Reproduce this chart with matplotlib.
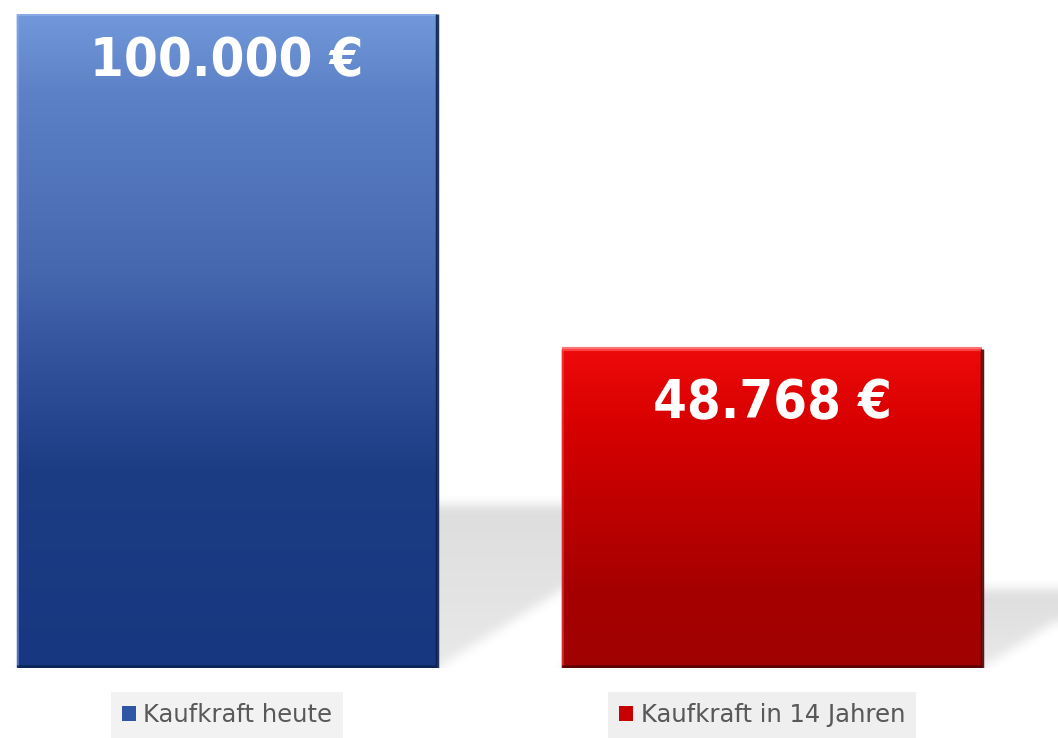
import numpy as np
import matplotlib
matplotlib.use("Agg")
import matplotlib.pyplot as plt
from matplotlib.patches import Patch
from matplotlib.transforms import blended_transform_factory

# Kaufkraft heute vs. in 14 Jahren
kategorien = ["Kaufkraft heute", "Kaufkraft in 14 Jahren"]
werte = [100000, 48768]
beschriftung = ["100.000 €", "48.768 €"]

# farbverlaeufe (oben -> unten)
verlauf = [
    [(0.0, "#7299dc"), (0.12, "#5d81c6"), (0.4, "#4567ae"), (0.56, "#2e4e98"),
     (0.7, "#1c3c84"), (1.0, "#173780")],
    [(0.0, "#ee0a0a"), (0.25, "#d60000"), (0.75, "#a60000"), (1.0, "#a00202")],
]
kanten_dunkel = ["#0c1f4c", "#4a0000"]
kanten_hell = ["#8fb0ea", "#ff5050"]
legenden_farben = ["#2f56a4", "#c80000"]
text_abstand = [-34, -39]      # punkte unter balkenoberkante
legenden_versatz = [0, -10]    # pixel

fig = plt.figure(figsize=(10.58, 7.38), dpi=100)
ax = fig.add_axes([0, 70 / 738, 1, 654 / 738])
ax.set_xlim(-227 / 545, (1058 - 227) / 545)
ax.set_ylim(0, 100000)
ax.axis("off")

x = np.arange(len(werte))
bars = ax.bar(x, werte, width=0.77, color="none", edgecolor="none", zorder=3)


def rgb(h):
    return np.array(matplotlib.colors.to_rgb(h))


# schatten hinter den balken
ppx = ax.transData.transform((1, 0))[0] - ax.transData.transform((0, 0))[0]
ppy = ax.transData.transform((0, 1))[1] - ax.transData.transform((0, 0))[1]
xl = ax.get_xlim()
nx, ny = 1058, 654
gx = np.linspace(xl[0], xl[1], nx)
gy = np.linspace(0, 100000, ny)
XX, YY = np.meshgrid(gx, gy)
schatten = np.zeros((ny, nx))
for b, v in zip(bars, werte):
    x0, x1 = b.get_x(), b.get_x() + b.get_width()
    h = 0.25 * v
    shift = 0.4 * v * ppy / ppx
    t = np.clip(YY / h, 0, None)
    inside = (YY <= h) & (XX >= x0 + t * shift) & (XX <= x1 + t * shift)
    schatten = np.maximum(schatten, inside * (0.16 + 0.08 * t))


def blur(a, k):
    for axis in (0, 1):
        c = np.cumsum(np.pad(a, [(k, k) if i == axis else (0, 0) for i in (0, 1)], mode="edge"), axis=axis)
        if axis == 0:
            a = (c[2 * k:] - c[:-2 * k]) / (2 * k)
        else:
            a = (c[:, 2 * k:] - c[:, :-2 * k]) / (2 * k)
    return a


schatten = blur(blur(schatten, 6), 6)[:ny, :nx]
img = np.zeros((ny, nx, 4))
img[..., :3] = 0.45
img[..., 3] = schatten
ax.imshow(img, extent=[xl[0], xl[1], 0, 100000], origin="lower", aspect="auto",
          zorder=1, interpolation="bilinear")

# balken mit verlauf und abgeschraegten kanten
for b, stops, dunkel, hell in zip(bars, verlauf, kanten_dunkel, kanten_hell):
    x0, x1, h = b.get_x(), b.get_x() + b.get_width(), b.get_height()
    pos = np.array([s[0] for s in stops])
    cols = np.array([rgb(s[1]) for s in stops])
    t = np.linspace(0, 1, 400)
    grad = np.stack([np.interp(t, pos, cols[:, i]) for i in range(3)], axis=-1)[:, None, :]
    im = ax.imshow(grad, extent=[x0, x1, 0, h], origin="upper", aspect="auto",
                   zorder=3, interpolation="bilinear")
    im.set_clip_path(b)
    ax.plot([x0, x1], [h, h], color=hell, lw=3, alpha=0.8, zorder=4, solid_capstyle="butt")
    ax.plot([x0, x0], [0, h], color=hell, lw=2, alpha=0.5, zorder=4, solid_capstyle="butt")
    ax.plot([x1, x1], [0, h], color=dunkel, lw=2.5, alpha=0.9, zorder=4, solid_capstyle="butt")
    ax.plot([x0, x1], [0, 0], color=dunkel, lw=4, alpha=0.75, zorder=4, solid_capstyle="butt")

# werte in den balken
for xi, v, txt, dy in zip(x, werte, beschriftung, text_abstand):
    ax.annotate(txt, xy=(xi, v), xytext=(0, dy), textcoords="offset points",
                ha="center", va="center", color="white", fontsize=39,
                fontweight="bold", family="DejaVu Sans", fontstretch="condensed",
                zorder=5)

# legenden unter den balken
tr = blended_transform_factory(ax.transData, fig.transFigure)
for xi, lab, fc, off in zip(x, kategorien, legenden_farben, legenden_versatz):
    leg = ax.legend(handles=[Patch(facecolor=fc, label=lab)], loc="center",
                    bbox_to_anchor=(xi + off / ppx, 1 - 715 / 738), bbox_transform=tr,
                    frameon=True, fancybox=False, fontsize=17.5,
                    handlelength=0.6, handleheight=0.6, handletextpad=0.3,
                    borderpad=0.45, borderaxespad=0)
    leg.get_frame().set_facecolor("#efefef")
    leg.get_frame().set_edgecolor("none")
    for t in leg.get_texts():
        t.set_color("#595959")
    ax.add_artist(leg)

fig.savefig("out.png", dpi=100, facecolor="white")
